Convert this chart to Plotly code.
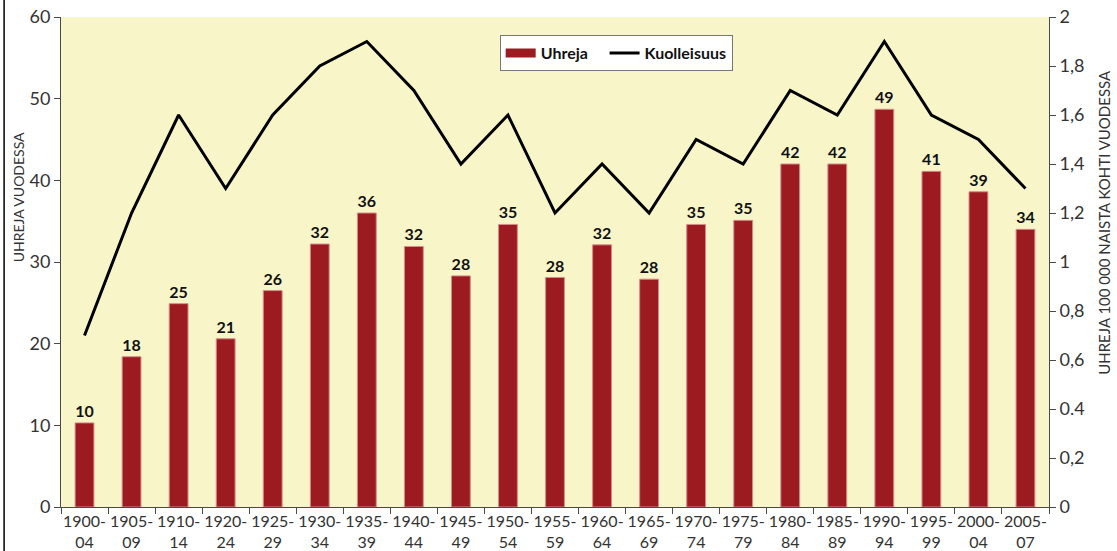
import plotly.graph_objects as go

categories = ["1900-04", "1905-09", "1910-14", "1920-24", "1925-29", "1930-34", "1935-39",
              "1940-44", "1945-49", "1950-54", "1955-59", "1960-64", "1965-69", "1970-74",
              "1975-79", "1980-84", "1985-89", "1990-94", "1995-99", "2000-04", "2005-07"]
tick_labels = [c.replace("-", "-<br>") for c in categories]
victims = [10.3, 18.4, 24.9, 20.6, 26.5, 32.2, 36.0, 31.9, 28.3, 34.6, 28.1, 32.1, 27.9,
           34.6, 35.1, 42.0, 42.0, 48.7, 41.1, 38.6, 34.0]
victim_labels = ["10", "18", "25", "21", "26", "32", "36", "32", "28", "35", "28", "32", "28",
                 "35", "35", "42", "42", "49", "41", "39", "34"]
mortality = [0.7, 1.2, 1.6, 1.3, 1.6, 1.8, 1.9, 1.7, 1.4, 1.6, 1.2, 1.4, 1.2, 1.5, 1.4,
             1.7, 1.6, 1.9, 1.6, 1.5, 1.3]
left_ticks = [0, 10, 20, 30, 40, 50, 60]
right_tickvals = [0, 0.2, 0.4, 0.6, 0.8, 1.0, 1.2, 1.4, 1.6, 1.8, 2.0]
right_ticktext = ["0", "0,2", "0.4", "0,6", "0,8", "1", "1,2", "1,4", "1,6", "1,8", "2"]
left_title = "UHREJA VUODESSA"
right_title = "UHREJA 100 000 NAISTA KOHTI VUODESSA"

FONT = "Lato"
AXIS_COLOR = "#4a4a4a"
BAR_COLOR = "#9B1B20"

fig = go.Figure()
fig.add_trace(go.Bar(
    x=categories, y=victims, name="Uhreja", showlegend=False,
    marker=dict(color=BAR_COLOR, line=dict(color="#D98A8A", width=1)),
    text=victim_labels, textposition="outside", cliponaxis=False,
    textfont=dict(family=FONT, size=16, color="#111111", weight="bold"),
    yaxis="y",
))
# legend entry for bars drawn as a wide swatch
fig.add_trace(go.Scatter(
    x=[None], y=[None], name="Uhreja&nbsp;&nbsp;&nbsp;", mode="lines",
    line=dict(color=BAR_COLOR, width=9), yaxis="y",
))
fig.add_trace(go.Scatter(
    x=categories, y=mortality, name="Kuolleisuus", mode="lines",
    line=dict(color="#000000", width=3),
    yaxis="y2",
))

fig.update_layout(
    width=1117, height=551,
    margin=dict(l=61, r=68, t=17, b=44, autoexpand=False),
    paper_bgcolor="#ffffff",
    plot_bgcolor="#F8F6C9",
    bargap=0.6,
    font=dict(family=FONT, color="#333333"),
    showlegend=True,
    legend=dict(
        orientation="h", x=0.444, y=0.963, xanchor="left", yanchor="top",
        bgcolor="#ffffff", bordercolor="#777777", borderwidth=1,
        font=dict(family=FONT, size=16, color="#111111", weight="bold"),
        itemwidth=30, tracegroupgap=0,
    ),
    xaxis=dict(
        type="category", range=[-0.5, 20.5], automargin=False,
        tickvals=categories, ticktext=tick_labels,
        tickson="boundaries", ticks="outside", ticklen=6, tickcolor=AXIS_COLOR,
        showline=True, linecolor=AXIS_COLOR, linewidth=1,
        showgrid=False, zeroline=False,
        tickfont=dict(family=FONT, size=16, color="#333333"),
        tickangle=0, ticklabelstandoff=0,
    ),
    yaxis=dict(
        range=[0, 60], tickvals=left_ticks, automargin=False,
        ticks="outside", ticklen=6, tickcolor=AXIS_COLOR,
        showline=True, linecolor=AXIS_COLOR, linewidth=1,
        showgrid=False, zeroline=False,
        tickfont=dict(family=FONT, size=18, color="#333333"),
    ),
    yaxis2=dict(
        range=[0, 2], overlaying="y", side="right", automargin=False,
        tickvals=right_tickvals, ticktext=right_ticktext,
        ticks="outside", ticklen=6, tickcolor=AXIS_COLOR,
        showline=True, linecolor=AXIS_COLOR, linewidth=1,
        showgrid=False, zeroline=False,
        tickfont=dict(family=FONT, size=18, color="#333333"),
    ),
    annotations=[
        dict(text=left_title, xref="paper", yref="paper", x=-0.0435, y=0.632,
             textangle=-90, showarrow=False, xanchor="center", yanchor="middle",
             font=dict(family=FONT, size=14, color="#333333")),
        dict(text=right_title, xref="paper", yref="paper", x=1.0562, y=0.581,
             textangle=-90, showarrow=False, xanchor="center", yanchor="middle",
             font=dict(family=FONT, size=15, color="#333333")),
    ],
)

fig.add_shape(type="line", xref="paper", yref="paper",
              x0=-0.0576, x1=-0.0576, y0=-0.1, y1=1.04,
              line=dict(color="#000000", width=1.5))

fig.write_html("out.html", config={"displayModeBar": False},
               post_script="document.body.style.margin='0';document.body.style.overflow='hidden';")
